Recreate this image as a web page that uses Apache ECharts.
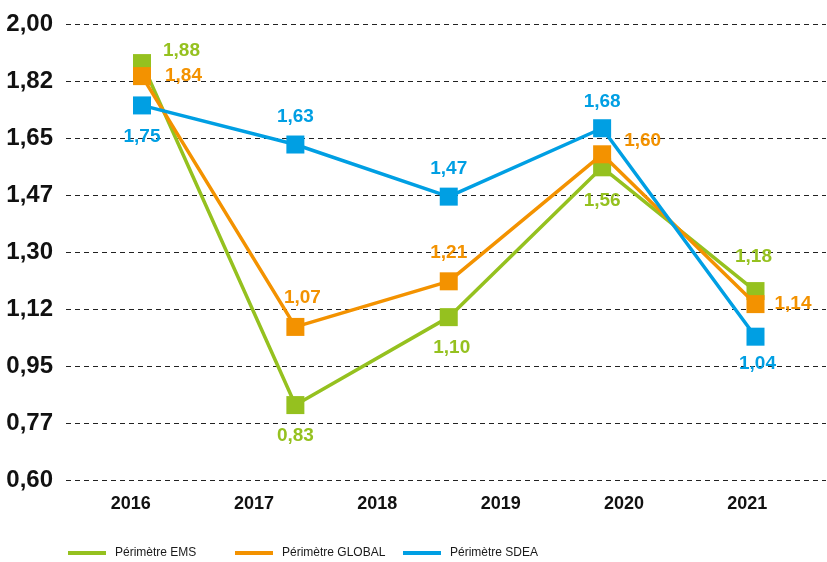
<!DOCTYPE html>
<html>
<head>
<meta charset="utf-8">
<script src="https://cdn.jsdelivr.net/npm/echarts@6/dist/echarts.min.js"></script>
<style>
html,body{margin:0;padding:0;background:#fff;}
#chart{width:827px;height:562px;}
</style>
</head>
<body>
<div id="chart"></div>
<script>
// ---- data ----
var yearLabels = ['2016', '2017', '2018', '2019', '2020', '2021'];
var pointCategories = ['P1', 'P2', 'P3', 'P4', 'P5'];
var seriesNames = ['Périmètre EMS', 'Périmètre GLOBAL', 'Périmètre SDEA'];
var emsValues = [1.88, 0.83, 1.10, 1.56, 1.18];
var globalValues = [1.84, 1.07, 1.21, 1.60, 1.14];
var sdeaValues = [1.75, 1.63, 1.47, 1.68, 1.04];
var yTickLabels = ['0,60', '0,77', '0,95', '1,12', '1,30', '1,47', '1,65', '1,82', '2,00'];

// ---- styling ----
var colors = ['#95C11F', '#F39200', '#009FE3'];
var FONT = '"Liberation Sans", Arial, sans-serif';
var legendLefts = [63, 230, 398];
var labelPlacement = [
  [{p:'right',d:12,o:[0,-12]}, {p:'bottom',d:12,o:[0,0]}, {p:'bottom',d:12,o:[3,0]}, {p:'bottom',d:15,o:[0,0]}, {p:'top',d:16,o:[-2,0]}],
  [{p:'right',d:14,o:[0,0]}, {p:'top',d:11,o:[7,0]}, {p:'top',d:10,o:[0,0]}, {p:'right',d:13,o:[0,-14]}, {p:'right',d:10,o:[0,0]}],
  [{p:'bottom',d:13,o:[0,0]}, {p:'top',d:9,o:[0,0]}, {p:'top',d:9,o:[0,0]}, {p:'top',d:8,o:[0,0]}, {p:'bottom',d:9,o:[2,0]}]
];
var valuesList = [emsValues, globalValues, sdeaValues];

function fmt(v) { return v.toFixed(2).replace('.', ','); }

var chart = echarts.init(document.getElementById('chart'), null, {renderer: 'canvas'});

var series = valuesList.map(function (vals, si) {
  return {
    name: seriesNames[si],
    type: 'line',
    xAxisIndex: 2,
    yAxisIndex: 2,
    z: 10 + si,
    symbol: 'rect',
    symbolSize: 18,
    lineStyle: {color: colors[si], width: 3.5},
    itemStyle: {color: colors[si]},
    emphasis: {disabled: true},
    data: vals.map(function (v, i) {
      var lp = labelPlacement[si][i];
      return {
        value: v,
        label: {
          show: true,
          position: lp.p,
          distance: lp.d,
          offset: lp.o,
          formatter: function (p) { return fmt(p.value); },
          color: colors[si],
          fontFamily: FONT,
          fontWeight: 'bold',
          fontSize: 19
        }
      };
    })
  };
});

var gridBase = {top: 24, bottom: 82, containLabel: false, outerBoundsMode: 'none'};
function grid(l, r) { return Object.assign({left: l, right: r}, gridBase); }

var option = {
  animation: false,
  backgroundColor: '#ffffff',
  color: colors,
  grid: [grid(66, 1), grid(69, 18), grid(142, 71.5)],
  xAxis: [
    {gridIndex: 0, type: 'value', min: 0, max: 1, show: false},
    {
      gridIndex: 1, type: 'category', data: yearLabels, boundaryGap: true,
      axisLine: {show: false}, axisTick: {show: false}, splitLine: {show: false},
      axisLabel: {color: '#111', fontFamily: FONT, fontWeight: 'bold', fontSize: 18, margin: 15}
    },
    {gridIndex: 2, type: 'category', data: pointCategories, boundaryGap: false, show: false}
  ],
  yAxis: [
    {
      gridIndex: 0, type: 'value', min: 0.6, max: 2.0, interval: 0.175,
      axisLine: {show: false}, axisTick: {show: false},
      axisLabel: {
        color: '#111', fontFamily: FONT, fontWeight: 'bold', fontSize: 24, margin: 13,
        formatter: function (v, i) { return yTickLabels[i]; }
      },
      splitLine: {show: true, lineStyle: {color: '#222', width: 1, type: [5, 4]}}
    },
    {gridIndex: 1, type: 'value', min: 0.6, max: 2.0, show: false},
    {gridIndex: 2, type: 'value', min: 0.6, max: 2.0, show: false}
  ],
  legend: seriesNames.map(function (n, i) {
    return {
      data: [n],
      left: legendLefts[i],
      top: 542,
      icon: 'rect',
      itemWidth: 38,
      itemHeight: 4,
      textStyle: {color: '#1a1a1a', fontFamily: FONT, fontSize: 12, padding: [0, 0, 0, 4]}
    };
  }),
  series: series
};
chart.setOption(option);
</script>
</body>
</html>
